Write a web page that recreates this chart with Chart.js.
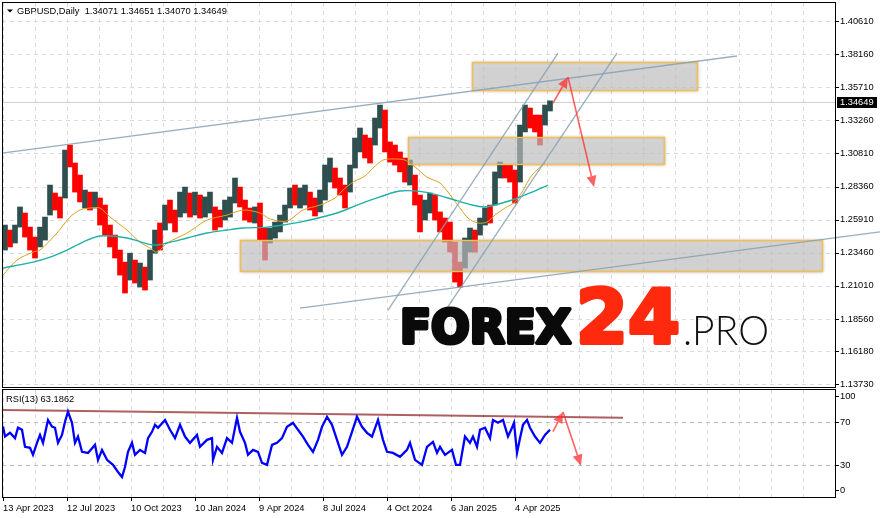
<!DOCTYPE html>
<html><head><meta charset="utf-8">
<script src="https://cdn.jsdelivr.net/npm/chart.js@4/dist/chart.umd.min.js"></script>
<style>
html,body{margin:0;padding:0;background:#fff;overflow:hidden}
#wrap{position:relative;width:881px;height:518px;background:#fff}
#main{position:absolute;left:0;top:0}
#rsi{position:absolute;left:0;top:388px}
</style></head>
<body><div id="wrap"><canvas id="main" width="881" height="388"></canvas><canvas id="rsi" width="881" height="130"></canvas></div>
<script>
// ---------------- DATA ----------------
const symbolTitle = 'GBPUSD,Daily  1.34071 1.34651 1.34070 1.34649';
const rsiTitle = 'RSI(13) 63.1862';
const lastPrice = 1.34649;
const priceTicks = [1.40610,1.38160,1.35710,1.33260,1.30810,1.28360,1.25910,1.23460,1.21010,1.18560,1.16180,1.13730];
const rsiTicks = [100,70,30,0];
const dateLabels = ['13 Apr 2023','12 Jul 2023','10 Oct 2023','10 Jan 2024','9 Apr 2024','8 Jul 2024','4 Oct 2024','6 Jan 2025','4 Apr 2025'];
const barsPerCandleGroup = 5;

// price candles, grouped by 5 trading days: highs, lows, direction (1 = up, 0 = down)
const groupHigh = [1.2551,1.2514,1.2551,1.2685,1.2640,1.2536,1.2462,1.2536,1.2610,1.2847,
1.2788,1.2759,1.3106,1.3143,1.3010,1.2921,1.2810,1.2795,1.2795,1.2751,
1.2699,1.2551,1.2477,1.2366,1.2277,1.2343,1.2292,1.2270,1.2240,1.2366,
1.2514,1.2566,1.2699,1.2736,1.2662,1.2795,1.2832,1.2788,1.2795,1.2773,
1.2759,1.2795,1.2685,1.2662,1.2736,1.2759,1.2899,1.2832,1.2736,1.2677,
1.2685,1.2714,1.2529,1.2529,1.2573,1.2625,1.2699,1.2825,1.2847,1.2825,
1.2847,1.2795,1.2751,1.2810,1.2995,1.3047,1.2973,1.2899,1.2847,1.2995,
1.3195,1.3269,1.3217,1.3195,1.3343,1.3439,1.3402,1.3166,1.3143,1.3092,
1.3047,1.3032,1.2921,1.2773,1.2736,1.2788,1.2773,1.2648,1.2603,1.2573,
1.2425,1.2277,1.2455,1.2529,1.2514,1.2603,1.2677,1.2699,1.2944,1.3017,
1.2995,1.2995,1.2958,1.3291,1.3439,1.3417,1.3365,1.3365,1.3439,1.3470];
const groupLow = [1.2366,1.2389,1.2418,1.2536,1.2462,1.2366,1.2307,1.2389,1.2440,1.2625,
1.2662,1.2603,1.2751,1.2981,1.2795,1.2722,1.2677,1.2662,1.2677,1.2551,
1.2477,1.2389,1.2307,1.2181,1.2048,1.2144,1.2122,1.2092,1.2070,1.2144,
1.2343,1.2366,1.2514,1.2566,1.2500,1.2610,1.2640,1.2610,1.2625,1.2603,
1.2610,1.2640,1.2514,1.2536,1.2588,1.2610,1.2714,1.2685,1.2588,1.2573,
1.2566,1.2440,1.2292,1.2418,1.2455,1.2500,1.2573,1.2677,1.2699,1.2677,
1.2699,1.2662,1.2618,1.2648,1.2736,1.2869,1.2825,1.2773,1.2677,1.2795,
1.2973,1.3092,1.3047,1.3010,1.3143,1.3269,1.3092,1.3017,1.2995,1.2944,
1.2869,1.2847,1.2699,1.2500,1.2588,1.2640,1.2588,1.2500,1.2425,1.2351,
1.2129,1.2092,1.2233,1.2351,1.2351,1.2477,1.2551,1.2566,1.2699,1.2899,
1.2899,1.2869,1.2714,1.2869,1.3240,1.3269,1.3240,1.3143,1.3291,1.3395];
const groupUp = [1,0,1,1,0,0,0,1,1,1, 0,0,1,0,0,0,1,0,1,0, 0,0,0,0,0,1,0,1,0,1,
1,0,1,0,0,1,1,0,1,0, 1,1,0,0,1,1,1,0,0,0, 1,0,0,1,1,1,1,1,0,1,
1,0,0,1,1,1,0,0,0,1, 1,1,0,0,1,1,0,0,0,0, 0,1,0,0,1,1,0,0,0,0,
0,0,1,1,0,1,1,0,1,1, 0,0,0,1,1,0,0,0,1,1];

// moving averages (bar index, value)
const maFastBar = [0,14,30,37,54,67,77,87,97,107,124,137,147,154,164,184,204,224,240,257,267,284,300,317,332,340,350,362,370,380,390,402,412,424,437,445,454,465,475,484,492,502,512,519,529,542];
const maFast = [1.2181,1.2292,1.2351,1.2366,1.2492,1.2610,1.2662,1.2677,1.2677,1.2610,1.2514,1.2425,1.2381,1.2351,1.2418,1.2492,1.2588,1.2625,1.2662,1.2640,1.2596,1.2581,1.2662,1.2699,1.2751,1.2810,1.2869,1.2914,1.2973,1.3032,1.3040,1.3032,1.2981,1.2906,1.2862,1.2795,1.2707,1.2603,1.2566,1.2573,1.2625,1.2677,1.2722,1.2795,1.2921,1.3010];
const maSlowBar = [0,30,47,64,80,97,124,150,164,184,204,224,240,264,297,334,354,377,397,422,445,469,482,499,512,529,545];
const maSlow = [1.2233,1.2277,1.2314,1.2366,1.2425,1.2470,1.2455,1.2403,1.2418,1.2455,1.2492,1.2514,1.2529,1.2536,1.2573,1.2640,1.2699,1.2759,1.2803,1.2795,1.2751,1.2699,1.2685,1.2714,1.2744,1.2795,1.2847];

// RSI(13) (bar index, value)
const rsiBar = [0,2,7,12,15,19,22,27,30,34,37,40,45,49,52,55,59,62,65,69,72,75,79,85,92,95,99,104,110,115,119,122,125,129,132,137,142,145,149,152,155,162,167,172,177,182,187,194,197,204,209,210,214,219,224,229,234,237,242,245,250,255,259,264,269,274,279,284,290,295,300,305,310,315,319,324,329,334,339,344,349,354,359,364,369,375,380,384,390,397,404,407,412,419,424,430,434,437,442,449,453,457,460,462,467,470,474,477,482,487,490,495,500,505,509,511,514,517,520,524,527,532,537,542,547];
const rsiValue = [65.9,56.5,60,55,64.7,62.8,46.9,46,39.4,50.6,58,50.6,72,65.9,64.7,50.6,58,70.3,79.7,69.4,50.6,56.5,42.2,41.2,48.7,34.7,44,34.7,30,23.4,18.7,28,42.2,50.6,39.4,44,41.2,55,60.9,67.5,64.7,72,62.8,55,67.5,56.5,50.6,58,46.9,53.4,55,34.7,46.9,41.2,55,50.6,74,60.9,50.6,39.4,44,42.2,31.9,30,48.7,50.6,55,65.6,69.4,62.8,56.5,48.7,42.2,53.4,65.6,75,67.5,53.4,39.4,46.9,60.9,75,65.6,60,56.5,72,53.4,42.2,41.2,37.5,44,50.6,34.7,30,46.9,51.5,41.2,46.9,39.4,44,30,30,46,56.5,50.6,56.5,46.9,62.8,64.7,55,72,69.4,72,56.5,64.7,69.4,41.2,55,67.5,72,64.7,56.5,50.6,58,62.8];

// drawn objects (bar index, value)
const trendUpper = [[-1,1.3084],[734,1.3802]];
const trendLower = [[297,1.1937],[877,1.2500]];
const channelLeft = [[385,1.1922],[555,1.3824]];
const channelRight = [[444,1.1937],[614,1.3824]];
const zoneTop = [469,694,1.3550,1.3755];
const zoneMid = [405,661,1.3000,1.3203];
const zoneLow = [237,819,1.2211,1.2438];
const priceForecast = [[550,1.3454],[565,1.3647],[591,1.2833]];
const rsiTrend = [[-1,81.3],[620,74.1]];
const rsiForecast = [[550,61.2],[560,79.4],[578,29.3]];

// ---------------- STYLE ----------------
const AX = (function(){
  const c = document.createElement('canvas').getContext('2d');
  const t = '1.40610 13 Apr 2023';
  const w = f => { c.font = f; return c.measureText(t).width; };
  const ok = w("20px 'Liberation Sans Narrow', monospace") !== w('20px monospace') &&
             w("20px 'Liberation Sans Narrow', serif") !== w('20px serif');
  return ok ? {family:"'Liberation Sans Narrow', 'Liberation Sans', sans-serif", size:10.5}
            : {family:"'Liberation Sans', Arial, sans-serif", size:9.3};
})();
const AXF = AX.size + 'px ' + AX.family;
const GRID = '#dcdcdc';
const BULL = '#2f4f4f', BEAR = '#ff0000';
const TREND = 'rgba(135,160,178,0.85)';
const ARROW = 'rgba(255,45,45,0.75)';
const X_MIN = -1, X_MAX = 832;
const gridBars = []; for (let b = 0; b <= 832; b += 32) gridBars.push(b);

function seg(ctx, xs, ys, p1, p2){
  ctx.beginPath();
  ctx.moveTo(xs.getPixelForValue(p1[0]), ys.getPixelForValue(p1[1]));
  ctx.lineTo(xs.getPixelForValue(p2[0]), ys.getPixelForValue(p2[1]));
  ctx.stroke();
}
function arrowSeg(ctx, xs, ys, p1, p2){
  const x1 = xs.getPixelForValue(p1[0]), y1 = ys.getPixelForValue(p1[1]);
  const x2 = xs.getPixelForValue(p2[0]), y2 = ys.getPixelForValue(p2[1]);
  const ang = Math.atan2(y2 - y1, x2 - x1), L = 11, H = 5;
  const bx = x2 - L*Math.cos(ang), by = y2 - L*Math.sin(ang);
  ctx.beginPath(); ctx.moveTo(x1, y1); ctx.lineTo(bx, by); ctx.stroke();
  ctx.beginPath();
  ctx.moveTo(x2, y2);
  ctx.lineTo(bx + H*Math.sin(ang), by - H*Math.cos(ang));
  ctx.lineTo(bx - H*Math.sin(ang), by + H*Math.cos(ang));
  ctx.closePath(); ctx.fill();
}
function fitText(ctx, text, font, x0, x1, base, color, stroke){
  ctx.save();
  ctx.font = font; ctx.textBaseline = 'alphabetic'; ctx.textAlign = 'left';
  const w = ctx.measureText(text).width;
  const s = stroke || 0;
  ctx.translate(x0 + s/2, base - s/2);
  ctx.scale((x1 - x0 - s) / w, 1);
  ctx.fillStyle = color; ctx.fillText(text, 0, 0);
  if (s) { ctx.lineWidth = s; ctx.strokeStyle = color; ctx.lineJoin = 'round'; ctx.strokeText(text, 0, 0); }
  ctx.restore();
}
function zone(ctx, xs, ys, z){
  const x1 = Math.round(xs.getPixelForValue(z[0])) + 0.5, x2 = Math.round(xs.getPixelForValue(z[1])) + 0.5;
  const y1 = Math.round(ys.getPixelForValue(z[3])) + 0.5, y2 = Math.round(ys.getPixelForValue(z[2])) + 0.5;
  ctx.save();
  ctx.shadowColor = 'rgba(0,0,0,0.28)'; ctx.shadowBlur = 5;
  ctx.fillStyle = 'rgba(206,206,206,0.62)';
  ctx.fillRect(x1, y1, x2 - x1, y2 - y1);
  ctx.shadowBlur = 3; ctx.shadowColor = 'rgba(0,0,0,0.18)';
  ctx.strokeStyle = '#f2bf55'; ctx.lineWidth = 1.5;
  ctx.strokeRect(x1, y1, x2 - x1, y2 - y1);
  ctx.restore();
}

// ---------------- MAIN CHART ----------------
const mainDeco = {
  id: 'mainDeco',
  beforeDatasetsDraw(chart){
    const {ctx, chartArea: a, scales: {x, y}} = chart;
    ctx.save();
    ctx.strokeStyle = GRID; ctx.lineWidth = 1; ctx.setLineDash([4,4]);
    ctx.beginPath();
    for (const b of gridBars) { if (b >= X_MAX) continue; const px = Math.round(x.getPixelForValue(b)) + 0.5; ctx.moveTo(px, a.top); ctx.lineTo(px, a.bottom); }
    for (const v of priceTicks) { const py = Math.round(y.getPixelForValue(v)) + 0.5; ctx.moveTo(a.left, py); ctx.lineTo(a.right, py); }
    ctx.stroke();
    ctx.setLineDash([]);
    ctx.strokeStyle = '#cfcfcf';
    const lp = Math.round(y.getPixelForValue(lastPrice)) + 0.5;
    ctx.beginPath(); ctx.moveTo(a.left, lp); ctx.lineTo(a.right, lp); ctx.stroke();
    ctx.restore();
  },
  afterDatasetDraw(chart, args){
    if (args.index !== 0) return;
    const {ctx, scales: {x, y}} = chart;
    [zoneTop, zoneMid, zoneLow].forEach(z => zone(ctx, x, y, z));
  },
  afterDatasetsDraw(chart){
    const {ctx, chartArea: a, scales: {x, y}} = chart;
    ctx.save();
    // trend lines
    ctx.strokeStyle = TREND; ctx.lineWidth = 1.3;
    [trendUpper, trendLower, channelLeft, channelRight].forEach(t => seg(ctx, x, y, t[0], t[1]));
    // forecast arrows
    ctx.strokeStyle = ARROW; ctx.fillStyle = ARROW; ctx.lineWidth = 1.6;
    for (let i = 0; i < priceForecast.length - 1; i++) arrowSeg(ctx, x, y, priceForecast[i], priceForecast[i+1]);
    // logo watermark
    fitText(ctx, 'FOREX', 'bold 46px "DejaVu Sans", sans-serif', 398, 573, 345, '#0a0a0a', 4);
    fitText(ctx, '24', 'bold 74px "DejaVu Sans", sans-serif', 574, 682, 345, '#ff2a0e', 4);
    fitText(ctx, '.PRO', '300 41px Lato, "Open Sans", sans-serif', 683, 769, 345, '#111111', 0);
    // panel border
    ctx.strokeStyle = '#000'; ctx.lineWidth = 1;
    ctx.strokeRect(2.5, 2.5, a.right - 2, a.bottom - 2);
    // y tick marks
    ctx.beginPath();
    for (const v of priceTicks) { const py = Math.round(y.getPixelForValue(v)) + 0.5; ctx.moveTo(a.right, py); ctx.lineTo(a.right + 4, py); }
    ctx.stroke();
    // last price box
    const lp = Math.round(y.getPixelForValue(lastPrice));
    ctx.fillStyle = '#000'; ctx.fillRect(a.right + 2, lp - 5, 40, 11);
    ctx.fillStyle = '#fff'; ctx.font = AXF; ctx.textBaseline = 'middle'; ctx.textAlign = 'left';
    ctx.fillText(lastPrice.toFixed(5), a.right + 5, lp + 0.5);
    // title
    ctx.fillStyle = '#000';
    ctx.beginPath(); ctx.moveTo(7, 9.5); ctx.lineTo(13, 9.5); ctx.lineTo(10, 12.5); ctx.closePath(); ctx.fill();
    ctx.fillText(symbolTitle, 17, 11);
    ctx.restore();
  }
};

new Chart(document.getElementById('main'), {
  type: 'bar',
  data: { datasets: [
    { type: 'bar', order: 10,
      data: groupHigh.map((h, i) => ({ x: i * barsPerCandleGroup + 2, y: [groupLow[i], h] })),
      backgroundColor: groupUp.map(u => u ? BULL : BEAR), borderWidth: 0, barThickness: 5 },
    { type: 'line', order: 5, data: maFastBar.map((b, i) => ({ x: b, y: maFast[i] })),
      borderColor: '#d9a21f', borderWidth: 1, pointRadius: 0, tension: 0.3, fill: false },
    { type: 'line', order: 4, data: maSlowBar.map((b, i) => ({ x: b, y: maSlow[i] })),
      borderColor: '#1fb0a5', borderWidth: 1.4, pointRadius: 0, tension: 0.3, fill: false }
  ]},
  options: {
    responsive: false, animation: false, devicePixelRatio: 1, events: [],
    layout: { padding: { left: 2, top: 3, right: 0, bottom: 1 } },
    plugins: { legend: { display: false }, tooltip: { enabled: false } },
    scales: {
      x: { type: 'linear', min: X_MIN, max: X_MAX, offset: false, display: false },
      y: { type: 'linear', position: 'right', min: 1.13526, max: 1.41942, bounds: 'data', beginAtZero: false,
           grid: { display: false, drawTicks: false }, border: { display: false },
           afterBuildTicks: s => { s.ticks = priceTicks.map(v => ({ value: v })); },
           afterFit: s => { s.width = 46; s.paddingTop = 0; s.paddingBottom = 0; },
           ticks: { autoSkip: false, padding: 5, color: '#000', font: { family: AX.family, size: AX.size },
                    callback: v => Number(v).toFixed(5) } }
    }
  },
  plugins: [mainDeco]
});

// ---------------- RSI CHART ----------------
const rsiDeco = {
  id: 'rsiDeco',
  beforeDatasetsDraw(chart){
    const {ctx, chartArea: a, scales: {x, y}} = chart;
    ctx.save();
    ctx.lineWidth = 1; ctx.setLineDash([4,4]);
    ctx.strokeStyle = GRID; ctx.beginPath();
    for (const b of gridBars) { if (b >= X_MAX) continue; const px = Math.round(x.getPixelForValue(b)) + 0.5; ctx.moveTo(px, a.top); ctx.lineTo(px, a.bottom); }
    ctx.stroke();
    ctx.strokeStyle = '#bdbdbd'; ctx.beginPath();
    for (const v of [70, 30]) { const py = Math.round(y.getPixelForValue(v)) + 0.5; ctx.moveTo(a.left, py); ctx.lineTo(a.right, py); }
    ctx.stroke();
    ctx.setLineDash([]);
    ctx.strokeStyle = 'rgba(140,35,35,0.72)'; ctx.lineWidth = 2;
    seg(ctx, x, y, rsiTrend[0], rsiTrend[1]);
    ctx.restore();
  },
  afterDatasetsDraw(chart){
    const {ctx, chartArea: a, scales: {x, y}} = chart;
    ctx.save();
    ctx.strokeStyle = ARROW; ctx.fillStyle = ARROW; ctx.lineWidth = 1.6;
    for (let i = 0; i < rsiForecast.length - 1; i++) arrowSeg(ctx, x, y, rsiForecast[i], rsiForecast[i+1]);
    ctx.strokeStyle = '#000'; ctx.lineWidth = 1;
    ctx.strokeRect(2.5, 1.5, a.right - 2, a.bottom - 1);
    ctx.fillStyle = '#000'; ctx.font = AXF; ctx.textBaseline = 'middle'; ctx.textAlign = 'left';
    ctx.beginPath();
    rsiTicks.forEach(v => {
      let py = y.getPixelForValue(v);
      if (v === 100) py += 6; if (v === 0) py -= 7;
      py = Math.round(py) + 0.5;
      ctx.moveTo(a.right, py); ctx.lineTo(a.right + 4, py);
      ctx.fillText(String(v), a.right + 5, py);
    });
    gridBars.forEach(b => { if (b % 64 === 0 && b / 64 < dateLabels.length) { const px = Math.round(x.getPixelForValue(b)) + 0.5; ctx.moveTo(px, a.bottom); ctx.lineTo(px, a.bottom + 4); } });
    ctx.stroke();
    ctx.fillText(rsiTitle, 6, 11);
    ctx.restore();
  }
};

new Chart(document.getElementById('rsi'), {
  type: 'line',
  data: { datasets: [{ data: rsiBar.map((b, i) => ({ x: b, y: rsiValue[i] })),
    borderColor: '#0000ff', borderWidth: 2.3, pointRadius: 0, tension: 0, fill: false }] },
  options: {
    responsive: false, animation: false, devicePixelRatio: 1, events: [],
    layout: { padding: { left: 2, top: 2, right: 46, bottom: 0 } },
    plugins: { legend: { display: false }, tooltip: { enabled: false } },
    scales: {
      x: { type: 'linear', min: X_MIN, max: X_MAX, offset: false,
           grid: { display: false, drawTicks: false }, border: { display: false },
           afterBuildTicks: s => { s.ticks = gridBars.map(v => ({ value: v })); },
           afterFit: s => { s.height = 21; s.paddingLeft = 0; s.paddingRight = 0; },
           ticks: { autoSkip: false, maxRotation: 0, minRotation: 0, align: 'start', padding: 6, color: '#000',
                    font: { family: AX.family, size: AX.size },
                    callback: v => (v % 64 === 0 && dateLabels[v / 64]) ? dateLabels[v / 64] : '' } },
      y: { type: 'linear', min: 0, max: 100, display: false }
    }
  },
  plugins: [rsiDeco]
});
</script>
</body></html>
